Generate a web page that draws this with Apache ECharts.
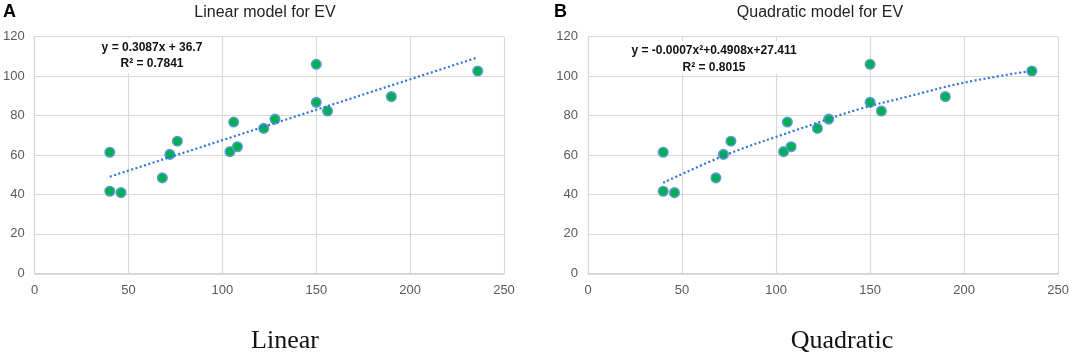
<!DOCTYPE html>
<html>
<head>
<meta charset="utf-8">
<script src="https://cdn.jsdelivr.net/npm/echarts@6/dist/echarts.min.js"></script>
<style>
html,body{margin:0;padding:0;background:#fff;}
#chart{width:1072px;height:353px;}
</style>
</head>
<body>
<div id="chart"></div>
<script>
// ---- data ----
const evX = [40, 40, 46, 68, 72, 76, 104, 106, 108, 122, 128, 150, 150, 156, 190, 236];
const evY = [61.4, 41.6, 40.9, 48.4, 60.3, 67.0, 61.7, 76.7, 64.2, 73.5, 78.2, 106.0, 86.7, 82.3, 89.6, 102.6];
const linTrendX = [40, 236];
const linTrendY = [49.0, 109.5];
const quadTrendX = [40, 74, 110, 144, 170, 200, 236];
const quadTrendY = [45.9, 60.3, 72.4, 83.2, 89.6, 96.7, 102.7];
const xTicks = [0, 50, 100, 150, 200, 250];
const yTicks = [0, 20, 40, 60, 80, 100, 120];
const panelLetters = ['A', 'B'];
const panelTitles = ['Linear model for EV', 'Quadratic model for EV'];
const panelCaptions = ['Linear', 'Quadratic'];
const eqLines = [
  ['y = 0.3087x + 36.7', 'R² = 0.7841'],
  ['y = -0.0007x²+0.4908x+27.411', 'R² = 0.8015']
];

const pts = evX.map((x, i) => [x, evY[i]]);
const linTrend = linTrendX.map((x, i) => [x, linTrendY[i]]);
const quadTrend = quadTrendX.map((x, i) => [x, quadTrendY[i]]);

const gridCol = '#d9d9d9';
const labelCol = '#595959';
const sans = "'Liberation Sans', Arial, sans-serif";

function xAxis(idx) {
  return {
    gridIndex: idx, type: 'value', min: xTicks[0], max: xTicks[xTicks.length - 1], interval: 50,
    axisLine: { show: true, lineStyle: { color: '#d0d0d0', width: 1.5 } },
    axisTick: { show: false },
    splitLine: { show: true, lineStyle: { color: gridCol, width: 1.2 } },
    axisLabel: { color: labelCol, fontSize: 13, fontFamily: sans, margin: 11 }
  };
}
function yAxis(idx) {
  return {
    gridIndex: idx, type: 'value', min: yTicks[0], max: yTicks[yTicks.length - 1], interval: 20,
    axisLine: { show: true, lineStyle: { color: gridCol, width: 1.2 } },
    axisTick: { show: false },
    splitLine: { show: true, lineStyle: { color: gridCol, width: 1.2 } },
    axisLabel: { color: labelCol, fontSize: 13, fontFamily: sans, margin: 10 }
  };
}
const scatterStyle = { color: '#00B050', borderColor: '#5B9BD5', borderWidth: 1.6, opacity: 1 };
const trendStyle = { color: '#2E75D6', width: 2.2, type: [2, 2.5] };
const eqFont = "bold 12px 'Liberation Sans', Arial, sans-serif";

const chart = echarts.init(document.getElementById('chart'), null, { renderer: 'canvas' });
chart.setOption({
  backgroundColor: '#ffffff',
  animation: false,
  grid: [
    { left: 33, top: 36.7, width: 471, height: 236.6 },
    { left: 588, top: 36.7, width: 471, height: 236.6 }
  ],
  xAxis: [xAxis(0), xAxis(1)],
  yAxis: [yAxis(0), yAxis(1)],
  title: [
    { text: panelTitles[0], left: 260, top: 0, textAlign: 'center', textStyle: { fontFamily: sans, fontSize: 16, fontWeight: 'normal', color: '#222' } },
    { text: panelTitles[1], left: 815, top: 0, textAlign: 'center', textStyle: { fontFamily: sans, fontSize: 16, fontWeight: 'normal', color: '#222' } },
    { text: panelCaptions[0], left: 280, top: 323, textAlign: 'center', textStyle: { fontFamily: "'Liberation Serif', 'DejaVu Serif', serif", fontSize: 26, fontWeight: 'normal', color: '#111' } },
    { text: panelCaptions[1], left: 837, top: 323, textAlign: 'center', textStyle: { fontFamily: "'Liberation Serif', 'DejaVu Serif', serif", fontSize: 26, fontWeight: 'normal', color: '#111' } }
  ],
  graphic: [
    { type: 'text', left: 3, top: 3, style: { text: panelLetters[0], font: "bold 18px 'Liberation Sans', Arial, sans-serif", fill: '#000' } },
    { type: 'text', left: 554, top: 3, style: { text: panelLetters[1], font: "bold 18px 'Liberation Sans', Arial, sans-serif", fill: '#000' } },
    { type: 'rect', z: 50, shape: { x: 96, y: 38, width: 112, height: 35 }, style: { fill: '#fff' } },
    { type: 'rect', z: 50, shape: { x: 618, y: 41, width: 192, height: 33 }, style: { fill: '#fff' } },
    { type: 'text', z: 51, x: 152, y: 48, style: { text: eqLines[0][0], font: eqFont, fill: '#111', align: 'center', verticalAlign: 'middle' } },
    { type: 'text', z: 51, x: 152, y: 64, style: { text: eqLines[0][1], font: eqFont, fill: '#111', align: 'center', verticalAlign: 'middle' } },
    { type: 'text', z: 51, x: 714, y: 51, style: { text: eqLines[1][0], font: eqFont, fill: '#111', align: 'center', verticalAlign: 'middle' } },
    { type: 'text', z: 51, x: 714, y: 67.5, style: { text: eqLines[1][1], font: eqFont, fill: '#111', align: 'center', verticalAlign: 'middle' } }
  ],
  series: [
    { type: 'scatter', xAxisIndex: 0, yAxisIndex: 0, data: pts, symbolSize: 9.5, itemStyle: scatterStyle },
    { type: 'line', xAxisIndex: 0, yAxisIndex: 0, data: linTrend, showSymbol: false, lineStyle: trendStyle, z: 3 },
    { type: 'scatter', xAxisIndex: 1, yAxisIndex: 1, data: pts, symbolSize: 9.5, itemStyle: scatterStyle },
    { type: 'line', xAxisIndex: 1, yAxisIndex: 1, data: quadTrend, showSymbol: false, smooth: 0.4, lineStyle: trendStyle, z: 3 }
  ]
});
</script>
</body>
</html>
